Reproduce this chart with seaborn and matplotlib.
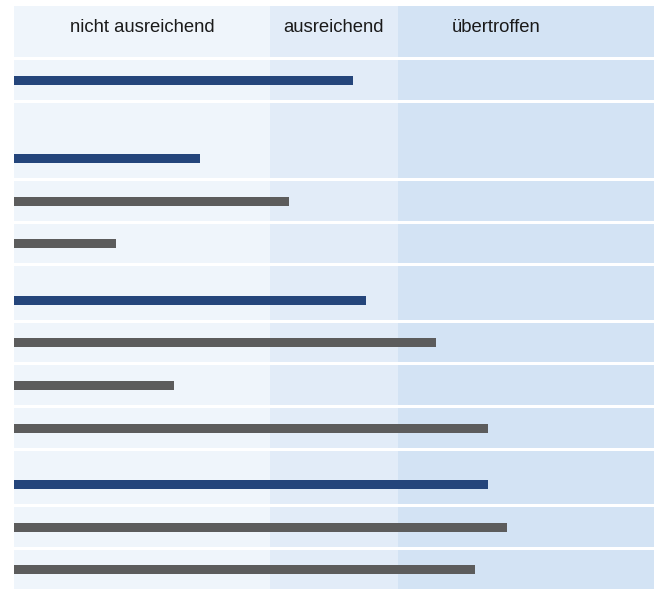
import matplotlib
matplotlib.use("Agg")
import matplotlib.pyplot as plt
import seaborn as sns
import pandas as pd

# header bands (x scale 0-100)
band_labels = ["nicht ausreichend", "ausreichend", "übertroffen"]
band_edges = [0, 40, 60, 100]
band_label_x = [20, 50, 75.3]

# rows, top to bottom
row_ids = ["Gesamt", "Bereich A", "A1", "A2", "Bereich B", "B1", "B2", "B3",
           "Bereich C", "C1", "C2"]
row_kind = ["summe", "summe", "einzel", "einzel", "summe", "einzel", "einzel",
            "einzel", "summe", "einzel", "einzel"]
row_values = [53, 29, 43, 16, 55, 66, 25, 74, 74, 77, 72]

df = pd.DataFrame({"id": row_ids, "kind": row_kind, "value": row_values})

# layout (pixel heights of header + each row)
header_h = 51
row_h = [40, 75, 40, 39, 54, 39, 40, 40, 53, 40, 39]
gap = 3
bar_px = 9
bar_from_bottom = 20

band_colors = ["#eff5fb", "#e2ecf8", "#d3e3f4"]
kind_colors = {"summe": "#24457b", "einzel": "#5c5c5c"}

sns.set_style("white")
plt.rcParams["font.family"] = ["Liberation Sans", "DejaVu Sans"]

W, H = 655, 590
fig = plt.figure(figsize=(W / 100, H / 100), dpi=100)
heights = [header_h] + row_h
total = sum(heights) + gap * (len(heights) - 1)
top = 6
gs = fig.add_gridspec(len(heights), 1, height_ratios=heights,
                      left=14 / W, right=654 / W,
                      top=1 - top / H, bottom=1 - (top + total) / H,
                      hspace=gap / (sum(heights) / len(heights)))


def draw_bands(ax):
    for i in range(len(band_labels)):
        ax.axvspan(band_edges[i], band_edges[i + 1], color=band_colors[i], lw=0)
    ax.set_xlim(band_edges[0], band_edges[-1])


ax = fig.add_subplot(gs[0])
draw_bands(ax)
for lab, x in zip(band_labels, band_label_x):
    ax.text(x, 0.58, lab, ha="center", va="center", fontsize=13.3,
            color="#1a1a1a", transform=ax.get_xaxis_transform())
ax.set_axis_off()

unit = 40.0
for i, row in df.iterrows():
    ax = fig.add_subplot(gs[i + 1])
    draw_bands(ax)
    sns.barplot(data=df.iloc[[i]], x="value", y="id", orient="h",
                color=kind_colors[row["kind"]], width=bar_px / unit,
                saturation=1, ax=ax, edgecolor="none")
    ax.set_xlim(band_edges[0], band_edges[-1])
    ax.set_ylim(bar_from_bottom / unit, -(row_h[i] - bar_from_bottom) / unit)
    ax.set_axis_off()

fig.savefig("out.png", dpi=100)
